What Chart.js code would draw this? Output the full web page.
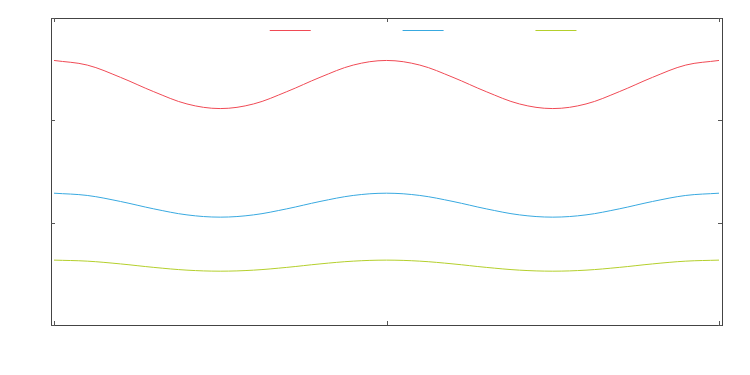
<!DOCTYPE html>
<html>
<head>
<meta charset="utf-8">
<script src="https://cdn.jsdelivr.net/npm/chart.js@4"></script>
<style>
  html, body { margin: 0; padding: 0; background: #fff; }
  #wrap { width: 750px; height: 375px; }
</style>
</head>
<body>
<div id="wrap"><canvas id="chart"></canvas></div>
<script>
// values (x in periods of the wave)
const xValues = [0, 0.2, 0.4, 0.6, 0.8, 1, 1.2, 1.4, 1.6, 1.8, 2, 2.2, 2.4, 2.6, 2.8, 3, 3.2, 3.4, 3.6, 3.8, 4];
const redValues = [2.585, 2.54, 2.42, 2.28, 2.16, 2.115, 2.16, 2.28, 2.42, 2.54, 2.585, 2.54, 2.42, 2.28, 2.16, 2.115, 2.16, 2.28, 2.42, 2.54, 2.585];
const blueValues = [1.288, 1.266, 1.207, 1.135, 1.076, 1.054, 1.076, 1.135, 1.207, 1.266, 1.288, 1.266, 1.207, 1.135, 1.076, 1.054, 1.076, 1.135, 1.207, 1.266, 1.288];
const greenValues = [0.634, 0.624, 0.597, 0.563, 0.536, 0.526, 0.536, 0.563, 0.597, 0.624, 0.634, 0.624, 0.597, 0.563, 0.536, 0.526, 0.536, 0.563, 0.597, 0.624, 0.634];
const seriesLabels = ['', '', ''];
const seriesColors = ['#f04a55', '#38a9e0', '#b4cf2c'];
const xTicks = [0, 2, 4];
const yTicks = [0, 1, 2, 3];

function toPoints(ys) {
    return xValues.map((x, i) => ({ x: x, y: ys[i] }));
}

// frame, inward ticks and the line-only legend
const framePlugin = {
    id: 'frame',
    afterDraw(chart) {
        const { ctx, chartArea: a, scales } = chart;
        ctx.save();
        ctx.strokeStyle = '#444';
        ctx.lineWidth = 1;
        ctx.strokeRect(Math.round(a.left) + 0.5, Math.round(a.top) + 0.5,
            Math.round(a.right - a.left), Math.round(a.bottom - a.top));

        ctx.strokeStyle = '#555';
        const len = 4;
        xTicks.forEach(v => {
            const px = Math.round(scales.x.getPixelForValue(v)) + 0.5;
            ctx.beginPath();
            ctx.moveTo(px, a.bottom); ctx.lineTo(px, a.bottom - len);
            ctx.moveTo(px, a.top); ctx.lineTo(px, a.top + len);
            ctx.stroke();
        });
        yTicks.forEach(v => {
            const py = Math.round(scales.y.getPixelForValue(v)) + 0.5;
            ctx.beginPath();
            ctx.moveTo(a.left, py); ctx.lineTo(a.left + len, py);
            ctx.moveTo(a.right, py); ctx.lineTo(a.right - len, py);
            ctx.stroke();
        });

        // legend samples
        const w = a.right - a.left;
        const y0 = Math.round(a.top + 12) + 0.5;
        chart.data.datasets.forEach((ds, i) => {
            const x0 = a.left + w * (0.326 + i * 0.198);
            ctx.strokeStyle = ds.borderColor;
            ctx.beginPath();
            ctx.moveTo(x0, y0); ctx.lineTo(x0 + 41, y0);
            ctx.stroke();
            ctx.fillStyle = '#333';
            ctx.font = '10px "DejaVu Sans"';
            ctx.fillText(seriesLabels[i], x0 - 60, y0 + 3);
        });
        ctx.restore();
    }
};

new Chart(document.getElementById('chart'), {
    type: 'line',
    data: {
        datasets: [
            { label: seriesLabels[0], data: toPoints(redValues), borderColor: seriesColors[0] },
            { label: seriesLabels[1], data: toPoints(blueValues), borderColor: seriesColors[1] },
            { label: seriesLabels[2], data: toPoints(greenValues), borderColor: seriesColors[2] }
        ].map(d => Object.assign(d, { borderWidth: 1, pointRadius: 0, tension: 0.35, fill: false }))
    },
    options: {
        responsive: true,
        maintainAspectRatio: false,
        animation: false,
        layout: { padding: { left: 51, right: 28, top: 18, bottom: 50 } },
        plugins: { legend: { display: false }, tooltip: { enabled: false } },
        scales: {
            x: {
                type: 'linear', min: -0.018, max: 4.018,
                grid: { display: false, drawTicks: false },
                border: { display: false },
                ticks: { display: false }
            },
            y: {
                min: 0, max: 3,
                grid: { display: false, drawTicks: false },
                border: { display: false },
                ticks: { display: false }
            }
        }
    },
    plugins: [framePlugin]
});
</script>
</body>
</html>
